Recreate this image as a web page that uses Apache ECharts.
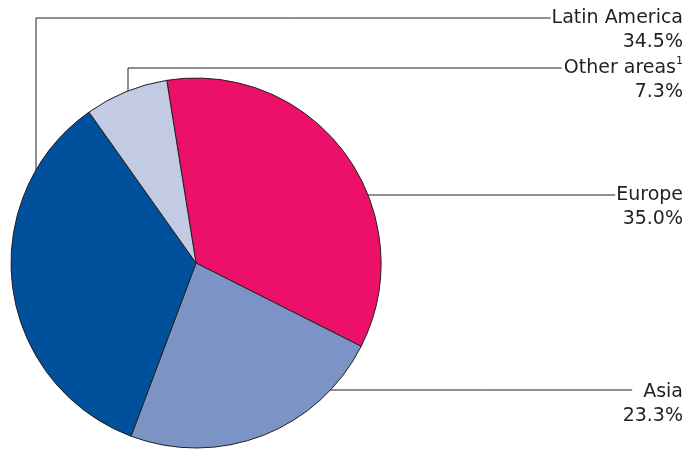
<!DOCTYPE html>
<html>
<head>
<meta charset="utf-8">
<script src="https://cdn.jsdelivr.net/npm/echarts@6/dist/echarts.min.js"></script>
<style>
html,body{margin:0;padding:0;background:#fff;}
#chart{width:691px;height:449px;}
</style>
</head>
<body>
<div id="chart"></div>
<script>
// ---- data ----
const categories = ['Europe', 'Asia', 'Latin America', 'Other areas'];
const shares = [35.0, 23.3, 34.5, 7.3];
const footnotes = ['', '', '', '1'];

// ---- styling / layout (not data) ----
const colors = ['#ED1068', '#7C93C5', '#00509B', '#C3CAE4'];
const CX = 196, CY = 263, R = 185;
const LABEL_RIGHT = 683;
const lineY = [195, 390, 18, 68];
const labelTop = [183, 380, 6, 56];
const elbowX = [null, null, 36, 128];
const lineGap = [1, 11, 1, 2];
const FONT = 'DejaVu Sans';
const FS = 19;

const ctx = document.createElement('canvas').getContext('2d');
function firstLineWidth(i) {
  ctx.font = FS + 'px "' + FONT + '"';
  let w = ctx.measureText(categories[i]).width;
  if (footnotes[i]) { ctx.font = '11px "' + FONT + '"'; w += ctx.measureText(footnotes[i]).width; }
  return w;
}

const chart = echarts.init(document.getElementById('chart'), null, {renderer: 'canvas'});
chart.setOption({
  animation: false,
  backgroundColor: '#ffffff',
  series: [{
    type: 'pie',
    center: [CX, CY],
    radius: R,
    startAngle: 99.1,
    clockwise: true,
    avoidLabelOverlap: false,
    data: categories.map((c, i) => ({name: c, value: shares[i], itemStyle: {color: colors[i]}})),
    itemStyle: {borderColor: '#231F20', borderWidth: 1},
    label: {
      show: true,
      position: 'outside',
      color: '#231F20',
      fontFamily: FONT,
      fontSize: FS,
      lineHeight: 24,
      align: 'right',
      formatter: function (p) {
        const i = p.dataIndex;
        const sup = footnotes[i] ? '{s|' + footnotes[i] + '}' : '';
        return '{n|' + p.name + '}' + sup + '\n{n|' + shares[i].toFixed(1) + '%}';
      },
      rich: {
        n: {fontFamily: FONT, fontSize: FS, lineHeight: 24, color: '#231F20', align: 'right'},
        s: {fontFamily: FONT, fontSize: 11, lineHeight: 14, color: '#231F20', verticalAlign: 'top'}
      }
    },
    labelLine: {show: true, lineStyle: {color: '#231F20', width: 1}},
    labelLayout: function (params) {
      const i = params.dataIndex;
      const ly = lineY[i];
      const endX = LABEL_RIGHT - firstLineWidth(i) - lineGap[i];
      let pts;
      if (elbowX[i] === null) {
        const ax = CX + Math.sqrt(R * R - (ly - CY) * (ly - CY)) - 1;
        pts = [[ax, ly], [(ax + endX) / 2, ly], [endX, ly]];
      } else {
        const ex = elbowX[i];
        const ay = CY - Math.sqrt(R * R - (ex - CX) * (ex - CX)) + 1;
        pts = [[ex, ay], [ex, ly], [endX, ly]];
      }
      return {
        x: LABEL_RIGHT,
        y: labelTop[i],
        align: 'right',
        verticalAlign: 'top',
        labelLinePoints: pts
      };
    }
  }]
});
</script>
</body>
</html>
